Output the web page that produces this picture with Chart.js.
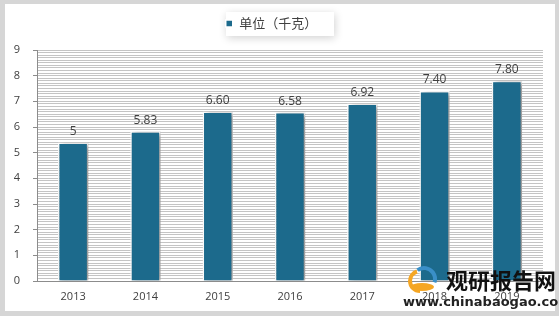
<!DOCTYPE html>
<html>
<head>
<meta charset="utf-8">
<script src="https://cdn.jsdelivr.net/npm/chart.js@4/dist/chart.umd.min.js"></script>
<style>
html,body{margin:0;padding:0;background:#d9d9d9;}
#wrap{width:559px;height:316px;position:relative;}
</style>
</head>
<body>
<div id="wrap"><canvas id="c" width="559" height="316"></canvas></div>
<script>
const categories = ['2013','2014','2015','2016','2017','2018','2019'];
const values = [5.4, 5.83, 6.6, 6.58, 6.92, 7.4, 7.8];
const valueLabels = ['5','5.83','6.60','6.58','6.92','7.40','7.80'];
const seriesName = '单位（千克）';
const yMin = 0, yMax = 9;

const isInt = v => Math.abs(v - Math.round(v)) < 1e-6;

const framePlugin = {
  id: 'frame',
  beforeInit(chart) {
    const lg = chart.legend;
    if (lg) {
      const orig = lg.fit;
      lg.fit = function () { orig.call(this); this.height += 10; };
    }
  },
  beforeDraw(chart) {
    const ctx = chart.ctx;
    ctx.save();
    ctx.fillStyle = '#d6d6d6';
    ctx.fillRect(0, 0, chart.width, chart.height);
    ctx.fillStyle = '#ffffff';
    ctx.fillRect(5, 4, chart.width - 9, chart.height - 9);
    ctx.shadowColor = 'rgba(0,0,0,0.18)';
    ctx.shadowBlur = 8;
    ctx.shadowOffsetX = 1;
    ctx.shadowOffsetY = 2;
    ctx.fillRect(226, 12, 108, 24);
    ctx.restore();
  }
};

const shadowPlugin = {
  id: 'barShadow',
  beforeDatasetDraw(chart) {
    const ctx = chart.ctx;
    ctx.save();
    ctx.shadowColor = 'rgba(0,0,0,0.45)';
    ctx.shadowBlur = 5;
    ctx.shadowOffsetX = 3;
    ctx.shadowOffsetY = 1;
  },
  afterDatasetDraw(chart) {
    chart.ctx.restore();
  }
};

const labelPlugin = {
  id: 'valueLabels',
  afterDatasetsDraw(chart) {
    const ctx = chart.ctx;
    const meta = chart.getDatasetMeta(0);
    ctx.save();
    ctx.fillStyle = '#404040';
    ctx.font = '12px "Open Sans", "Noto Sans", sans-serif';
    ctx.textAlign = 'center';
    ctx.textBaseline = 'bottom';
    meta.data.forEach((bar, i) => {
      ctx.fillText(valueLabels[i], bar.x, bar.y - 5);
    });
    ctx.restore();
  }
};

const watermarkPlugin = {
  id: 'watermark',
  afterDraw(chart) {
    const ctx = chart.ctx;
    ctx.save();
    ctx.lineWidth = 4;
    ctx.strokeStyle = '#f5a623';
    ctx.beginPath();
    ctx.arc(420, 281, 10, Math.PI * 0.5, Math.PI * 1.4);
    ctx.stroke();
    ctx.strokeStyle = '#3a8fc8';
    ctx.beginPath();
    ctx.arc(424, 279, 11, Math.PI * 1.3, Math.PI * 2.1);
    ctx.stroke();
    ctx.fillStyle = '#f5a623';
    ctx.beginPath();
    ctx.ellipse(422, 287, 12, 4, 0, 0, Math.PI * 2);
    ctx.fill();
    ctx.fillStyle = '#111111';
    ctx.font = 'bold 22px "Noto Sans CJK SC", sans-serif';
    ctx.textAlign = 'left';
    ctx.textBaseline = 'middle';
    ctx.fillText('观研报告网', 446, 281);
    ctx.font = 'bold 13px "DejaVu Sans", sans-serif';
    ctx.fillStyle = '#222222';
    ctx.fillText('www.chinabaogao.com', 403, 303);
    ctx.restore();
  }
};

new Chart(document.getElementById('c'), {
  type: 'bar',
  data: {
    labels: categories,
    datasets: [{
      label: seriesName,
      data: values,
      backgroundColor: '#1c6a8c',
      borderColor: '#ffffff',
      borderWidth: 1.5,
      barPercentage: 0.42,
      categoryPercentage: 1.0
    }]
  },
  options: {
    responsive: false,
    animation: false,
    devicePixelRatio: 1,
    layout: { padding: { left: 0, right: 16, top: 7, bottom: 0 } },
    plugins: {
      legend: {
        display: true,
        position: 'top',
        labels: {
          boxWidth: 7,
          boxHeight: 7,
          color: '#404040',
          font: { size: 13, family: '"Noto Sans CJK SC", sans-serif' },
          padding: 10
        }
      },
      tooltip: { enabled: false }
    },
    scales: {
      x: {
        grid: { display: false, drawTicks: false },
        border: { display: true, color: '#8c8c8c' },
        ticks: {
          color: '#404040',
          font: { size: 11, family: '"Open Sans", "Noto Sans", sans-serif' },
          padding: 9
        },
        afterFit(scale) { scale.height = 35; }
      },
      y: {
        min: yMin,
        max: yMax,
        afterBuildTicks(scale) {
          const t = [];
          for (let i = 0; i <= 90; i++) t.push({ value: i / 10 });
          scale.ticks = t;
        },
        ticks: {
          autoSkip: false,
          color: '#404040',
          font: { size: 11, family: '"Open Sans", "Noto Sans", sans-serif' },
          padding: 13,
          callback: v => isInt(v) ? String(Math.round(v)) : ''
        },
        grid: {
          color: '#c4c4c4',
          lineWidth: 1,
          tickLength: 4,
          tickColor: ctx => (ctx.tick && isInt(ctx.tick.value)) ? '#8c8c8c' : 'rgba(0,0,0,0)'
        },
        border: { display: true, color: '#8c8c8c' },
        afterFit(scale) { scale.width = 37; }
      }
    }
  },
  plugins: [framePlugin, shadowPlugin, labelPlugin, watermarkPlugin]
});
</script>
</body>
</html>
